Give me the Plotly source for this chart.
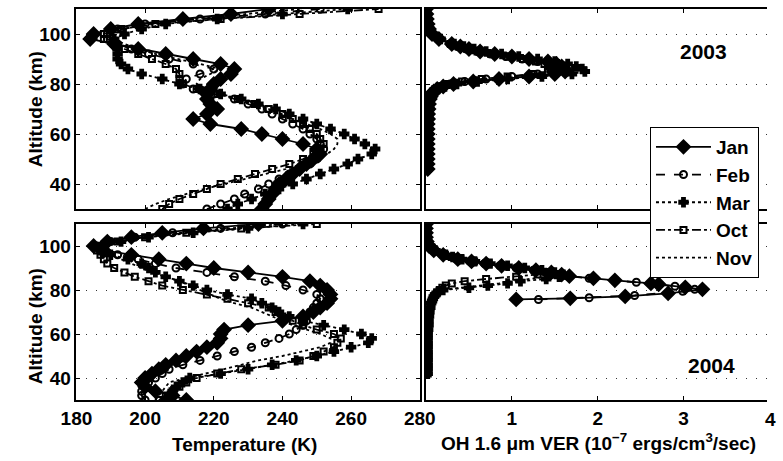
import plotly.graph_objects as go

# ---------------- data ----------------
MONTHS = ["Jan", "Feb", "Mar", "Oct", "Nov"]
ALT = list(range(30, 111, 2))  # km, temperature profiles

T2003 = {
    "Jan": [234, 235, 236, 237, 238, 239, 241, 243, 245, 247, 249, 251, 250, 246, 240, 234, 228, 219, 214, 218, 221,
            219, 218, 218, 219, 220, 222, 225, 226, 222, 214, 206, 198, 191, 184, 185, 190, 198, 211, 225, 236],
    "Feb": [218, 222, 226, 229, 233, 236, 239, 242, 245, 248, 250, 251, 252, 251, 250, 248, 246, 243, 240, 237, 234,
            230, 226, 220, 214, 211, 212, 216, 220, 214, 207, 201, 196, 192, 189, 189, 192, 200, 216, 235, 251],
    "Mar": [224, 227, 231, 235, 239, 243, 247, 251, 255, 259, 262, 266, 267, 264, 261, 258, 254, 250, 246, 242, 238,
            233, 228, 222, 216, 210, 205, 199, 195, 193, 192, 192, 192, 191, 191, 194, 199, 206, 221, 240, 259],
    "Oct": [205, 207, 210, 214, 218, 222, 227, 232, 237, 242, 246, 249, 251, 252, 251, 250, 248, 246, 243, 240, 236,
            232, 227, 221, 215, 211, 210, 210, 209, 206, 202, 198, 194, 191, 188, 188, 193, 203, 222, 245, 268],
    "Nov": [200, 203, 207, 212, 217, 223, 229, 235, 241, 246, 250, 253, 255, 256, 256, 254, 251, 247, 243, 239, 235,
            231, 227, 222, 218, 215, 216, 219, 222, 216, 209, 203, 198, 194, 191, 190, 194, 201, 214, 230, 245],
}
T2004 = {
    "Jan": [212, 208, 203, 200, 199, 200, 202, 204, 206, 209, 212, 215, 218, 221, 222, 222, 223, 230, 240, 246, 249,
            251, 253, 254, 254, 253, 251, 248, 240, 230, 220, 212, 204, 196, 188, 185, 189, 196, 205, 217, 233],
    "Feb": [200, 199, 199, 200, 201, 203, 205, 207, 211, 216, 221, 226, 231, 235, 239, 242, 244, 246, 247, 247, 248,
            249, 250, 251, 250, 246, 241, 235, 226, 218, 209, 203, 198, 192, 187, 186, 190, 197, 208, 222, 240],
    "Mar": [206, 207, 208, 209, 211, 213, 222, 230, 237, 244, 250, 255, 260, 265, 266, 263, 258, 252, 246, 242, 239,
            237, 234, 231, 224, 218, 214, 210, 206, 203, 201, 199, 195, 190, 187, 188, 193, 201, 214, 230, 246],
    "Oct": [204, 206, 208, 210, 212, 215, 221, 228, 238, 245, 249, 252, 255, 256, 257, 255, 250, 246, 243, 240, 238,
            236, 230, 224, 218, 211, 205, 201, 197, 194, 191, 189, 188, 187, 186, 187, 192, 200, 212, 228, 250],
    "Nov": [203, 204, 205, 206, 207, 212, 218, 223, 228, 233, 240, 246, 251, 254, 254, 251, 247, 243, 240, 237, 234,
            231, 226, 222, 219, 216, 213, 210, 206, 202, 199, 196, 193, 190, 187, 188, 192, 199, 210, 225, 240],
}

# OH 1.6 um volume emission rate (1e-7 ergs/cm3/sec)
V03_ALT = [46, 48, 50, 52, 54, 56, 58, 60, 62, 64, 66, 68, 70, 72, 74,
           75, 76, 77, 78, 79, 80, 81, 82, 83, 84, 85, 86, 87, 88, 89, 90, 91, 92, 93, 94, 95, 96,
           98, 100, 102, 104, 106, 108, 110]
VER2003 = {
    "Jan": [0.02, 0.02, 0.02, 0.02, 0.02, 0.02, 0.02, 0.02, 0.02, 0.02, 0.025, 0.025, 0.03, 0.035, 0.045,
            0.055, 0.065, 0.09, 0.13, 0.2, 0.32, 0.55, 0.85, 1.2, 1.5, 1.62, 1.6, 1.58, 1.52, 1.42, 1.2, 1.0, 0.8,
            0.63, 0.5, 0.4, 0.3, 0.15, 0.07, 0.035, 0.02, 0.01, 0.005, 0.0],
    "Feb": [0.02, 0.02, 0.02, 0.02, 0.02, 0.02, 0.02, 0.02, 0.02, 0.02, 0.02, 0.025, 0.03, 0.035, 0.04,
            0.05, 0.06, 0.08, 0.11, 0.17, 0.28, 0.45, 0.7, 1.0, 1.3, 1.47, 1.5, 1.48, 1.42, 1.3, 1.12, 0.93, 0.75,
            0.6, 0.47, 0.37, 0.28, 0.14, 0.06, 0.03, 0.015, 0.01, 0.005, 0.0],
    "Mar": [0.02, 0.02, 0.02, 0.02, 0.02, 0.02, 0.02, 0.02, 0.02, 0.025, 0.025, 0.03, 0.035, 0.04, 0.05,
            0.06, 0.07, 0.1, 0.14, 0.22, 0.36, 0.6, 0.95, 1.35, 1.7, 1.85, 1.82, 1.75, 1.65, 1.5, 1.3, 1.08, 0.88,
            0.7, 0.56, 0.44, 0.33, 0.17, 0.08, 0.04, 0.02, 0.01, 0.005, 0.0],
    "Oct": [0.02, 0.02, 0.02, 0.02, 0.02, 0.02, 0.02, 0.02, 0.02, 0.02, 0.02, 0.025, 0.03, 0.035, 0.04,
            0.05, 0.06, 0.08, 0.11, 0.16, 0.26, 0.42, 0.65, 0.95, 1.25, 1.42, 1.45, 1.43, 1.38, 1.28, 1.13, 0.95,
            0.76, 0.6, 0.48, 0.38, 0.29, 0.15, 0.07, 0.035, 0.02, 0.01, 0.005, 0.0],
    "Nov": [0.02, 0.02, 0.02, 0.02, 0.02, 0.02, 0.02, 0.02, 0.02, 0.025, 0.025, 0.03, 0.035, 0.04, 0.05,
            0.06, 0.07, 0.1, 0.14, 0.21, 0.35, 0.58, 0.9, 1.25, 1.55, 1.7, 1.7, 1.65, 1.56, 1.42, 1.22, 1.02, 0.83,
            0.67, 0.53, 0.42, 0.31, 0.16, 0.07, 0.035, 0.02, 0.01, 0.005, 0.0],
}
V04_ALT = [42, 44, 46, 48, 50, 52, 54, 56, 58, 60, 62, 64, 66, 68, 70, 72, 74,
           75, 76, 77, 78, 79, 80, 81, 82, 83, 84, 85, 86, 87, 88, 89, 90, 91, 92, 93, 94, 95, 96,
           98, 100, 102, 104, 106, 108, 110]
VER2004 = {
    "Mar": [0.02, 0.02, 0.02, 0.02, 0.02, 0.02, 0.02, 0.02, 0.02, 0.02, 0.025, 0.03, 0.03, 0.035, 0.04, 0.05, 0.06,
            0.07, 0.08, 0.09, 0.11, 0.14, 0.2, 0.5, 0.72, 0.95, 1.1, 1.4, 1.55, 1.6, 1.5, 1.35, 1.15, 0.95, 0.75,
            0.57, 0.42, 0.31, 0.23, 0.11, 0.05, 0.015, 0.005, 0.0, 0.0, 0.0],
    "Oct": [0.02, 0.02, 0.02, 0.02, 0.02, 0.02, 0.02, 0.02, 0.02, 0.02, 0.025, 0.03, 0.03, 0.035, 0.04, 0.05, 0.06,
            0.07, 0.08, 0.09, 0.11, 0.13, 0.16, 0.19, 0.23, 0.3, 0.45, 0.7, 1.05, 1.3, 1.4, 1.3, 1.12, 0.92, 0.73,
            0.56, 0.4, 0.3, 0.22, 0.1, 0.04, 0.015, 0.005, 0.0, 0.0, 0.0],
    "Nov": [0.02, 0.02, 0.02, 0.02, 0.02, 0.02, 0.02, 0.02, 0.02, 0.02, 0.025, 0.03, 0.03, 0.035, 0.04, 0.05, 0.06,
            0.07, 0.08, 0.09, 0.1, 0.13, 0.18, 0.4, 0.65, 0.85, 1.0, 1.2, 1.4, 1.5, 1.46, 1.32, 1.13, 0.93, 0.74,
            0.56, 0.41, 0.3, 0.22, 0.1, 0.045, 0.015, 0.005, 0.0, 0.0, 0.0],
}
JAN04_ALT = [75.7, 76.2, 77.1, 78.5, 80.3, 81.2, 82.6, 83.0, 84.4, 85.3, 86.3, 87, 88, 89, 90, 91, 92, 93, 94,
             96, 98, 100, 102, 104, 106, 108, 110]
JAN04_VER = [1.05, 1.68, 2.32, 2.82, 3.22, 3.02, 2.71, 2.62, 2.2, 1.95, 1.67, 1.58, 1.46, 1.28, 1.08, 0.88, 0.7,
             0.53, 0.37, 0.2, 0.09, 0.035, 0.01, 0.0, 0.0, 0.0, 0.0]
FEB04_ALT = [75.7, 76.5, 77.5, 79.4, 80.3, 81.7, 83.5, 84.4, 85.3, 86.3, 87, 88, 89, 90, 91, 92, 93, 94,
             96, 98, 100, 102, 104, 106, 108, 110]
FEB04_VER = [1.31, 1.9, 2.43, 2.99, 3.13, 2.9, 2.45, 2.2, 1.9, 1.65, 1.52, 1.42, 1.25, 1.05, 0.86, 0.68, 0.51,
             0.36, 0.19, 0.085, 0.03, 0.01, 0.0, 0.0, 0.0, 0.0]

T_TICKS = [180, 200, 220, 240, 260, 280]
V_TICKS = [1, 2, 3]
ALT_TICKS = [40, 60, 80, 100]

# ---------------- styles ----------------
STYLE = {
    "Jan": dict(dash="solid", symbol="diamond", size=10),
    "Feb": dict(dash="dash", symbol="circle-open", size=7),
    "Mar": dict(dash="dot", symbol="cross", size=7),
    "Oct": dict(dash="dashdot", symbol="square-open", size=6),
    "Nov": dict(dash="dot", symbol=None, size=0),
}

FONT = "Liberation Sans, Arial, sans-serif"
fig = go.Figure()


def add(x, y, m, xa, ya, legend=False):
    s = STYLE[m]
    mode = "lines+markers" if s["symbol"] else "lines"
    kw = dict(line=dict(color="black", width=1.8, dash=s["dash"]))
    if s["symbol"]:
        kw["marker"] = dict(symbol=s["symbol"], size=s["size"], color="black",
                            line=dict(color="black", width=2))
    fig.add_trace(go.Scatter(x=x, y=y, mode=mode, name=m, showlegend=legend,
                             xaxis=xa, yaxis=ya, **kw))


for m in MONTHS:
    add(T2003[m], ALT, m, "x", "y", legend=True)
for m in MONTHS:
    add(VER2003[m], V03_ALT, m, "x2", "y2")
for m in MONTHS:
    add(T2004[m], ALT, m, "x3", "y3")
add(JAN04_VER, JAN04_ALT, "Jan", "x4", "y4")
add(FEB04_VER, FEB04_ALT, "Feb", "x4", "y4")
for m in ["Mar", "Oct", "Nov"]:
    add(VER2004[m], V04_ALT, m, "x4", "y4")

FW, FH = 783, 461


def px(x):
    return x / FW


def py(y):
    return 1 - y / FH


XL = [px(63), px(421)]
XR = [px(427.5), 1.0]
YT = [py(209), py(9)]
YB = [py(400), py(224)]
VMAX = (783 - 427.5) / 89.5

tickfont = dict(family=FONT, size=19, color="black")
common = dict(showline=True, linecolor="black", linewidth=1.5, ticks="inside", ticklen=4,
              tickcolor="black", zeroline=False, tickfont=tickfont)
ycommon = dict(common, range=[30, 110], tickvals=ALT_TICKS, ticktext=[f"<b>{v}</b>" for v in ALT_TICKS],
               showgrid=True, gridcolor="#333", griddash="1px,9px", gridwidth=1.2)
tticks = dict(tickvals=T_TICKS, ticktext=[f"<b>{v}</b>" for v in T_TICKS])
vticks = dict(tickvals=V_TICKS, ticktext=[f"<b>{v}</b>" for v in V_TICKS])

fig.update_layout(
    width=FW, height=FH, margin=dict(l=0, r=0, t=0, b=0),
    plot_bgcolor="white", paper_bgcolor="white",
    font=dict(family=FONT, color="black"),
    xaxis=dict(common, **tticks, domain=XL, anchor="y", range=[180, 280],
               showticklabels=False, mirror="ticks", showgrid=False),
    yaxis=dict(ycommon, domain=YT, anchor="x", mirror="ticks"),
    xaxis2=dict(common, **vticks, domain=XR, anchor="y2", range=[0, VMAX],
                showticklabels=False, mirror="ticks", showgrid=False),
    yaxis2=dict(ycommon, domain=YT, anchor="x2", showticklabels=False, mirror=False),
    xaxis3=dict(common, **tticks, domain=XL, anchor="y3", range=[180, 280],
                mirror="ticks", showgrid=False),
    yaxis3=dict(ycommon, domain=YB, anchor="x3", mirror="ticks"),
    xaxis4=dict(common, **vticks, domain=XR, anchor="y4", range=[0, VMAX],
                mirror="ticks", showgrid=False),
    yaxis4=dict(ycommon, domain=YB, anchor="x4", showticklabels=False, mirror=False),
    legend=dict(x=px(661), y=py(127), xanchor="left", yanchor="top",
                bgcolor="white", bordercolor="black", borderwidth=1,
                font=dict(family=FONT, size=19, color="black", weight="bold"),
                itemwidth=55, tracegroupgap=0),
    showlegend=True,
)

lab = dict(family=FONT, size=19, color="black")
yearfont = dict(family=FONT, size=21, color="black")
ann = [
    dict(text="<b>Altitude (km)</b>", x=px(20), y=py(109), textangle=-90),
    dict(text="<b>Altitude (km)</b>", x=px(20), y=py(326), textangle=-90),
    dict(text="<b>Temperature (K)</b>", x=px(238), y=py(444)),
    dict(text="<b>OH 1.6 \u03bcm VER (10<sup>\u22127</sup> ergs/cm<sup>3</sup>/sec)</b>", x=px(607), y=py(442)),
    dict(text="<b>2003</b>", x=px(717), y=py(51), font=yearfont),
    dict(text="<b>2004</b>", x=px(725), y=py(365), font=yearfont),
]
for a in ann:
    a.setdefault("font", lab)
    fig.add_annotation(xref="paper", yref="paper", showarrow=False, xanchor="center", yanchor="middle", **a)
# tick label "4" sits at the cropped right edge: only its left part is in view
fig.add_annotation(xref="paper", yref="paper", showarrow=False, text="<b>4</b>", font=tickfont,
                   x=px(780), y=py(419), xanchor="left", yanchor="middle", borderpad=0)

# remove the browser's default 8px page margin so the 783x461 figure fills the window exactly
fig.write_html("out.html", config={"displayModeBar": False},
               post_script="document.body.style.margin='0';document.body.style.overflow='hidden';")
